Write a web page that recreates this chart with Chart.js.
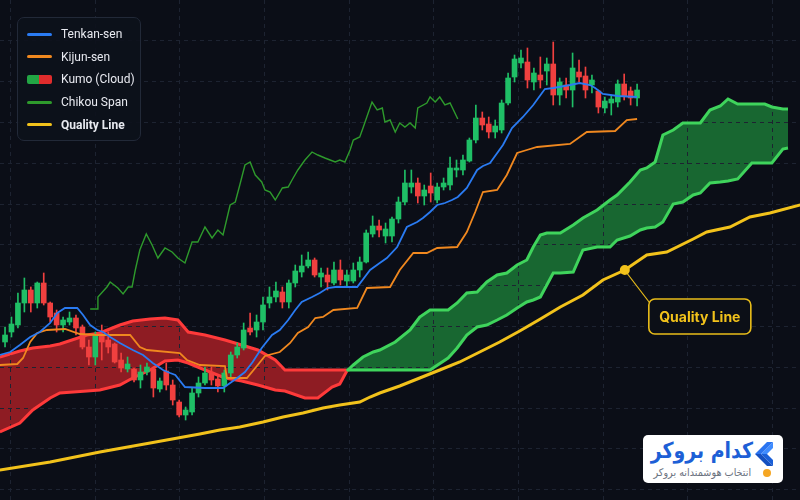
<!DOCTYPE html>
<html>
<head>
<meta charset="utf-8">
<script src="https://cdn.jsdelivr.net/npm/chart.js@4"></script>
<style>
  html, body { margin: 0; padding: 0; background: #0b0e17; }
  #wrap { position: relative; width: 800px; height: 500px; overflow: hidden; background: #0b0e17; }
  #chart { position: absolute; left: 0; top: 0; }
  .legend {
    position: absolute; left: 17px; top: 17px; width: 124px; height: 124px;
    box-sizing: border-box; padding: 5px 0 0 9px;
    background: rgba(13, 17, 27, 0.92); border: 1px solid #222938; border-radius: 7px;
    font-family: Roboto, sans-serif; font-size: 12px; color: #e8eaf0; white-space: nowrap;
  }
  .legend .row { display: flex; align-items: center; height: 22.6px; }
  .legend .sw { display: inline-block; flex: none; width: 25px; height: 3px; border-radius: 2px; margin-right: 9px; }
  .legend .kumo { height: 9px; border-radius: 2px; background: linear-gradient(90deg, #22a544 0 50%, #e02c2c 50% 100%); }
  .legend .bold { font-weight: 700; }
  .brand {
    position: absolute; left: 643px; top: 435px; width: 140px; height: 48px;
    background: #ffffff; border-radius: 5px; box-sizing: border-box;
  }
  .brand .name {
    position: absolute; right: 30px; top: 3px; direction: rtl;
    font-family: "DejaVu Sans", sans-serif; font-weight: 700; font-size: 22px; color: #1d5fd6; white-space: nowrap;
    transform: scaleX(0.86); transform-origin: right center;
  }
  .brand .sub {
    position: absolute; right: 32px; top: 31px; direction: rtl;
    font-family: "DejaVu Sans", sans-serif; font-size: 10.5px; color: #6b7280; white-space: nowrap;
    transform: scaleX(0.92); transform-origin: right center;
  }
  .brand svg { position: absolute; right: 8px; top: 6px; }
</style>
</head>
<body>
<div id="wrap">
  <canvas id="chart" width="800" height="500"></canvas>
  <div id="legend" class="legend"></div>
  <div class="brand">
    <div class="name">کدام بروکر</div>
    <div class="sub">انتخاب هوشمندانه بروکر</div>
    <svg width="20" height="38" viewBox="0 0 20 38">
      <polygon points="18,1 6,13 12,13 18,7" fill="#3f8cff"/>
      <polygon points="6,13 18,25 18,19 12,13" fill="#1a5fd8"/>
      <polygon points="18,1 12,1 0,13 6,13" fill="#2a74f0"/>
      <polygon points="0,13 12,25 18,25 6,13" fill="#1550c0"/>
      <circle cx="12" cy="32" r="4" fill="#f5a623"/>
    </svg>
  </div>
</div>
<script>
// candles: bar index -> open / high / low / close
const candleOpen = [
  115.8, 116.8, 117.5, 119.7, 121.0, 119.7, 121.7, 119.7, 118.7, 117.5,
  117.8, 118.2, 117.3, 115.3, 114.3, 116.5, 116.0, 115.6, 114.0, 113.1,
  113.1, 112.0, 112.8, 113.1, 111.1, 112.9, 111.5, 109.8, 108.5, 108.8,
  110.7, 111.7, 112.7, 112.1, 111.4, 112.7, 114.5, 115.2, 117.2, 117.0,
  117.8, 119.7, 120.3, 120.8, 119.8, 121.7, 122.8, 123.4, 124.0, 122.3,
  122.5, 121.7, 123.0, 121.9, 121.9, 123.0, 123.8, 126.6, 127.4, 126.4,
  126.4, 128.1, 129.8, 131.3, 131.7, 130.4, 131.4, 130.0, 131.3, 131.5,
  133.0, 133.0, 133.9, 136.0, 138.2, 137.6, 136.8, 137.0, 139.7, 142.3,
  143.7, 143.8, 141.8, 142.5, 142.9, 143.6, 140.5, 141.5, 141.0, 142.8,
  142.4, 141.5, 140.9, 139.2, 139.7, 139.8, 141.6, 140.9, 140.2
];
const candleHigh = [
  117.3, 118.3, 120.7, 122.2, 121.3, 121.8, 122.7, 119.8, 119.0, 118.3,
  118.8, 118.5, 117.5, 116.0, 116.8, 117.5, 116.8, 115.7, 114.7, 114.3,
  113.2, 113.5, 113.7, 113.3, 112.2, 113.7, 112.0, 110.0, 109.3, 111.2,
  112.3, 113.3, 113.3, 112.5, 113.0, 114.8, 115.7, 117.7, 118.7, 118.5,
  120.3, 121.3, 121.8, 121.3, 122.0, 123.5, 124.5, 124.8, 124.2, 123.2,
  123.2, 123.8, 124.0, 123.0, 123.7, 124.3, 127.0, 128.4, 128.0, 127.7,
  128.3, 130.3, 133.0, 133.0, 132.2, 131.5, 132.7, 131.7, 132.2, 134.3,
  134.0, 134.5, 136.2, 139.5, 138.8, 138.3, 138.0, 140.0, 142.7, 144.5,
  145.0, 145.2, 143.2, 144.3, 144.2, 145.8, 142.2, 142.2, 144.7, 144.0,
  143.3, 142.5, 141.0, 140.3, 140.5, 142.0, 142.6, 141.3, 141.6
];
const candleLow = [
  115.3, 116.3, 117.2, 118.8, 118.8, 119.2, 119.5, 117.8, 116.8, 116.8,
  117.5, 116.5, 115.1, 113.5, 113.5, 114.0, 114.7, 113.7, 112.8, 112.8,
  111.8, 111.2, 112.5, 110.3, 110.8, 111.0, 109.5, 108.3, 108.0, 108.5,
  110.3, 111.5, 111.5, 110.8, 110.8, 112.3, 114.2, 115.0, 116.5, 116.3,
  117.0, 119.2, 119.8, 119.2, 119.2, 121.3, 122.3, 123.2, 122.3, 121.3,
  121.0, 121.5, 121.5, 121.3, 121.7, 122.3, 123.7, 126.3, 126.3, 125.7,
  125.8, 127.7, 129.5, 130.7, 129.7, 129.5, 129.8, 129.7, 131.0, 131.0,
  132.3, 132.5, 133.8, 135.7, 137.0, 136.2, 136.2, 136.7, 139.5, 141.8,
  143.2, 141.2, 141.0, 141.2, 141.5, 139.5, 139.5, 140.2, 139.3, 141.8,
  140.2, 140.7, 138.7, 138.7, 138.5, 139.3, 140.0, 139.5, 139.4
];
const candleClose = [
  116.5, 117.6, 119.7, 121.0, 119.7, 121.7, 119.7, 118.3, 117.5, 118.0,
  118.2, 117.2, 115.3, 114.3, 116.5, 115.8, 115.3, 113.8, 113.2, 113.6,
  112.0, 112.8, 113.3, 111.2, 111.9, 111.5, 110.0, 108.5, 109.0, 110.7,
  111.7, 112.7, 112.0, 111.4, 112.7, 114.5, 115.3, 117.0, 116.8, 117.8,
  119.5, 120.3, 120.9, 119.8, 121.7, 122.9, 123.4, 124.0, 122.5, 122.7,
  121.8, 123.0, 122.0, 122.5, 123.0, 123.8, 126.7, 127.4, 127.0, 127.1,
  128.1, 129.8, 131.7, 131.7, 130.4, 131.0, 130.7, 131.3, 131.7, 133.2,
  133.2, 134.0, 136.0, 138.2, 137.5, 136.8, 137.4, 139.7, 142.2, 144.1,
  144.2, 142.0, 142.7, 142.0, 143.6, 140.5, 141.8, 141.0, 143.2, 142.3,
  141.0, 142.0, 139.3, 139.9, 140.1, 141.6, 140.4, 140.2, 141.0
];

// Tenkan-sen (bar position, value)
const tenkanX = [-0.8, 0.8, 2.3, 3.9, 5.4, 7.0, 8.1, 9.3, 11.2, 12.1, 13.2, 14.3, 15.2, 16.3, 17.8, 19.8,
  21.4, 22.9, 24.5, 25.6, 26.4, 27.9, 31.0, 33.8, 34.9, 36.0, 37.2, 38.4, 39.8, 41.4, 42.6, 43.9,
  45.0, 46.0, 47.6, 48.8, 50.0, 51.2, 54.6, 56.6, 58.1, 59.2, 60.8, 62.3, 63.9, 64.8, 65.9, 67.0,
  68.2, 69.3, 70.2, 71.6, 73.2, 74.1, 75.2, 77.2, 78.6, 80.3, 81.9, 83.7, 85.0, 87.6, 89.1, 90.7,
  91.5, 92.7, 95.0, 98.0];
const tenkanY = [114.5, 114.8, 115.5, 116.3, 116.8, 117.7, 118.7, 119.2, 119.2, 118.5, 117.5, 117.0, 116.8, 116.3, 115.7, 115.0,
  114.5, 113.7, 113.0, 112.7, 112.5, 111.3, 111.2, 111.2, 111.7, 112.2, 112.8, 113.8, 115.2, 116.5, 117.0, 118.0,
  119.0, 119.8, 120.3, 120.7, 121.2, 121.3, 121.3, 123.0, 123.7, 124.2, 125.3, 127.3, 127.8, 128.2, 128.8, 129.5,
  129.7, 130.0, 130.3, 131.2, 133.0, 133.4, 133.7, 135.5, 137.2, 138.3, 139.5, 141.1, 141.2, 141.5, 141.7, 141.5,
  141.2, 140.6, 140.4, 140.3];

// Kijun-sen
const kijunX = [-0.8, 1.9, 2.8, 3.9, 5.0, 6.5, 9.3, 11.6, 14.3, 19.4, 20.9, 22.0, 27.1, 28.2, 30.2, 34.1,
  34.4, 37.5, 38.8, 40.3, 42.6, 44.2, 45.4, 47.0, 48.1, 49.3, 50.9, 54.6, 56.1, 59.7, 61.2, 63.3,
  65.4, 67.0, 70.1, 71.6, 72.9, 74.1, 76.3, 77.8, 79.4, 80.9, 82.5, 87.6, 89.1, 90.2, 94.6, 96.4, 98.0];
const kijunY = [113.5, 113.6, 114.2, 115.8, 116.7, 117.0, 117.1, 116.6, 116.5, 116.5, 115.3, 115.0, 114.7, 114.0, 113.5, 113.4,
  112.2, 112.2, 113.2, 114.4, 114.8, 115.7, 116.7, 117.3, 118.2, 118.3, 119.0, 119.2, 121.2, 121.3, 123.0, 124.7,
  124.7, 125.2, 125.3, 126.8, 128.8, 130.8, 131.0, 132.5, 134.7, 135.0, 135.3, 135.6, 136.3, 136.8, 136.9, 138.0, 138.1];

// Kumo: Senkou Span A and B, shifted forward
const cloudX = [-0.8, 2.3, 4.3, 7.0, 8.5, 12.7, 14.7, 17.8, 19.8, 22.5, 24.8, 26.8, 28.4, 31.0, 34.1, 36.7,
  39.2, 41.9, 43.4, 46.5, 48.5, 50.7, 51.9, 53.0, 54.0, 55.5, 57.1, 58.1, 60.5, 62.8, 64.3, 65.9,
  68.7, 70.1, 71.6, 73.2, 74.7, 76.3, 77.8, 79.4, 80.9, 81.9, 83.0, 84.0, 85.0, 86.1, 88.1, 89.6,
  91.8, 93.8, 94.9, 96.9, 98.5, 99.5, 100.8, 102.0, 103.6, 105.1, 106.7, 107.8, 109.3, 110.9,
  112.1, 113.6, 115.8, 117.8, 118.9, 120.6, 121.4];
const spanA = [106.8, 107.7, 109.0, 110.2, 110.7, 110.9, 111.0, 111.5, 112.2, 113.0, 113.9, 114.0, 113.7, 113.0, 112.2, 111.9,
  111.5, 111.0, 110.9, 110.2, 110.2, 111.3, 111.6, 112.9, 113.5, 114.3, 114.8, 115.0, 115.8, 117.0, 118.3, 119.0,
  119.0, 119.7, 120.7, 120.8, 121.8, 122.5, 122.7, 123.5, 124.0, 125.3, 126.5, 126.7, 126.7, 126.7, 127.5, 128.2,
  129.0, 130.0, 130.5, 131.8, 133.0, 133.2, 133.8, 136.5, 137.0, 137.7, 137.7, 137.7, 139.0, 139.4,
  140.1, 139.6, 139.6, 139.6, 139.3, 139.1, 139.1];
const spanB = [114.3, 114.9, 115.2, 115.4, 115.6, 116.5, 116.7, 117.5, 117.9, 118.1, 118.2, 118.0, 116.8, 116.5, 116.0, 115.5,
  115.0, 114.0, 113.0, 113.0, 113.0, 113.0, 113.0, 113.0, 113.0, 113.0, 113.0, 113.0, 113.0, 113.0, 113.0, 113.0,
  114.2, 115.2, 116.5, 117.3, 117.5, 118.0, 118.5, 119.2, 119.8, 120.0, 120.3, 121.5, 122.7, 122.7, 122.8, 125.0,
  125.3, 125.3, 126.0, 126.4, 127.0, 127.2, 127.3, 127.8, 129.6, 129.8, 130.5, 130.7, 131.7, 131.8,
  131.9, 132.1, 133.7, 133.7, 133.7, 135.1, 135.2];

// Chikou span, shifted back
const chikouX = [13.2, 14.3, 14.4, 15.8, 16.3, 17.5, 18.3, 19.1, 19.7, 20.2, 20.9, 21.9, 22.8, 23.7, 24.8, 25.9,
  26.8, 27.9, 29.0, 29.9, 31.0, 32.1, 33.0, 33.8, 34.9, 35.7, 36.4, 37.2, 38.0, 38.8, 39.8, 40.3,
  41.1, 41.9, 43.0, 43.9, 44.5, 45.4, 46.5, 47.6, 48.5, 49.6, 50.4, 51.2, 51.9, 52.7, 53.5, 54.0,
  55.0, 55.5, 56.9, 57.7, 58.5, 58.9, 59.7, 60.5, 61.2, 62.0, 62.8, 63.6, 64.0, 65.4, 65.9, 66.7,
  67.4, 68.2, 69.0, 70.2];
const chikouY = [119.1, 119.1, 120.3, 121.3, 121.8, 121.2, 120.6, 121.3, 121.3, 123.0, 125.0, 126.6, 125.5, 124.2, 125.2, 124.8,
  124.2, 123.7, 125.8, 125.8, 127.3, 126.2, 127.0, 126.5, 129.5, 129.8, 131.5, 133.5, 133.8, 132.5, 131.8, 131.0,
  130.8, 130.0, 131.2, 131.3, 132.0, 133.0, 134.0, 134.8, 134.5, 134.2, 134.0, 133.8, 134.0, 133.8, 135.0, 136.0,
  136.3, 137.2, 139.8, 139.0, 139.2, 137.8, 138.0, 136.8, 137.7, 137.3, 137.7, 137.2, 139.2, 139.7, 140.3, 139.8,
  140.3, 139.5, 139.7, 138.1];

// Quality line
const qualityX = [-0.8, 7.0, 14.7, 22.5, 30.2, 33.3, 36.4, 40.0, 43.1, 46.2, 49.3, 51.9, 55.0, 56.6, 58.1, 61.2,
  64.3, 67.4, 70.5, 73.6, 76.7, 79.8, 83.0, 86.1, 89.6, 92.7, 96.1, 99.5, 102.6, 106.7, 108.8,
  112.4, 115.5, 118.6, 123.3];
const qualityY = [103.0, 103.8, 104.8, 105.7, 106.6, 107.0, 107.3, 107.8, 108.3, 108.7, 109.2, 109.5, 109.8, 110.3, 110.7, 111.4,
  112.2, 113.0, 113.8, 114.8, 115.8, 116.9, 118.1, 119.3, 120.5, 122.0, 123.0, 124.5, 124.8, 126.1, 126.8,
  127.3, 128.3, 128.7, 129.5];
const qualityTagX = 96.1;
const qualityTagText = 'Quality Line';

// grid levels (no tick labels are shown)
const xGrid = [0.8, 13.9, 27.0, 40.2, 53.3, 66.4, 79.5, 92.7, 105.8, 118.9];
const yGrid = [146.0, 141.9, 137.8, 133.7, 129.6, 125.6, 121.5, 117.4, 113.3, 109.2, 105.2, 101.1];

const GREEN = '#1fbf66';
const RED = '#f0403f';
const CLOUD_GREEN_LINE = '#3fd45c';
const CLOUD_RED_LINE = '#ff3a3a';

function pts(xs, ys) {
  return xs.map((x, i) => ({ x: x, y: ys[i] }));
}

const candleColors = candleClose.map((c, i) => (c >= candleOpen[i] ? GREEN : RED));
const bodies = candleOpen.map((o, i) => ({ x: i, y: [o, candleClose[i]] }));
const wicks = candleLow.map((l, i) => ({ x: i, y: [l, candleHigh[i]] }));

function cloudSegColor(ctx) {
  const a = spanA[ctx.p0DataIndex] + spanA[ctx.p1DataIndex];
  const b = spanB[ctx.p0DataIndex] + spanB[ctx.p1DataIndex];
  return a >= b ? CLOUD_GREEN_LINE : CLOUD_RED_LINE;
}

// dashed background grid, positioned through the chart scales
const gridPlugin = {
  id: 'dashGrid',
  beforeDatasetsDraw(chart) {
    const { ctx, chartArea, scales } = chart;
    ctx.save();
    ctx.strokeStyle = '#1d2331';
    ctx.lineWidth = 1;
    ctx.setLineDash([4, 4]);
    xGrid.forEach(v => {
      const x = Math.round(scales.x.getPixelForValue(v)) + 0.5;
      ctx.beginPath();
      ctx.moveTo(x, chartArea.top);
      ctx.lineTo(x, chartArea.bottom);
      ctx.stroke();
    });
    yGrid.forEach(v => {
      const y = Math.round(scales.y.getPixelForValue(v)) + 0.5;
      ctx.beginPath();
      ctx.moveTo(chartArea.left, y);
      ctx.lineTo(chartArea.right, y);
      ctx.stroke();
    });
    ctx.restore();
  }
};

// callout box for the quality line
const calloutPlugin = {
  id: 'qualityCallout',
  afterDatasetsDraw(chart) {
    const meta = chart.getDatasetMeta(2);
    const idx = qualityX.indexOf(qualityTagX);
    const pt = meta.data[idx];
    if (!pt) return;
    const { ctx } = chart;
    const bx = pt.x + 24, by = pt.y + 29, bw = 102, bh = 35;
    ctx.save();
    ctx.strokeStyle = '#e9bd1a';
    ctx.lineWidth = 1.2;
    ctx.beginPath();
    ctx.moveTo(pt.x + 2, pt.y + 3);
    ctx.lineTo(bx + 1, by + 4);
    ctx.stroke();
    ctx.fillStyle = '#0c0f17';
    ctx.lineWidth = 1.6;
    ctx.beginPath();
    ctx.roundRect(bx, by, bw, bh, 6);
    ctx.fill();
    ctx.stroke();
    ctx.fillStyle = '#f2c21b';
    ctx.font = 'bold 14px Inter, Roboto, sans-serif';
    ctx.textAlign = 'center';
    ctx.textBaseline = 'middle';
    ctx.fillText(qualityTagText, bx + bw / 2, by + bh / 2 + 1);
    ctx.restore();
  }
};

const chart = new Chart(document.getElementById('chart'), {
  type: 'bar',
  data: {
    datasets: [
      {
        type: 'line', label: 'Senkou Span B', data: pts(cloudX, spanB),
        borderWidth: 3, pointRadius: 0, fill: false, order: 10,
        borderColor: CLOUD_RED_LINE, segment: { borderColor: cloudSegColor }
      },
      {
        type: 'line', label: 'Kumo (Cloud)', data: pts(cloudX, spanA),
        borderWidth: 3, pointRadius: 0, order: 9,
        borderColor: CLOUD_RED_LINE, segment: { borderColor: cloudSegColor },
        fill: { target: 0, above: 'rgba(32, 150, 64, 0.66)', below: 'rgba(205, 36, 42, 0.68)' }
      },
      {
        type: 'line', label: 'Quality Line', data: pts(qualityX, qualityY),
        borderColor: '#f2c21b', borderWidth: 3, order: 8, fill: false,
        pointRadius: ctx => (ctx.raw && ctx.raw.x === qualityTagX ? 5 : 0),
        pointBackgroundColor: '#f2c21b', pointBorderWidth: 0, pointHoverRadius: 0
      },
      {
        label: 'wicks', data: wicks, backgroundColor: candleColors,
        barThickness: 1, grouped: false, borderWidth: 0, order: 4
      },
      {
        label: 'bodies', data: bodies, backgroundColor: candleColors,
        barThickness: 5, grouped: false, borderWidth: 0, borderSkipped: false, order: 3
      },
      {
        type: 'line', label: 'Chikou Span', data: pts(chikouX, chikouY),
        borderColor: '#2e9a2c', borderWidth: 1.4, pointRadius: 0, fill: false, order: 2
      },
      {
        type: 'line', label: 'Kijun-sen', data: pts(kijunX, kijunY),
        borderColor: '#f0881f', borderWidth: 1.8, pointRadius: 0, fill: false, order: 1
      },
      {
        type: 'line', label: 'Tenkan-sen', data: pts(tenkanX, tenkanY),
        borderColor: '#2a7bf2', borderWidth: 1.8, pointRadius: 0, fill: false, order: 0
      }
    ]
  },
  options: {
    responsive: false,
    animation: false,
    layout: { padding: 0 },
    scales: {
      x: { type: 'linear', min: -0.78, max: 123.26, offset: false, display: false },
      y: { type: 'linear', min: 100, max: 150, display: false }
    },
    plugins: {
      legend: { display: false },
      tooltip: { enabled: false },
      filler: { drawTime: 'beforeDatasetsDraw' }
    }
  },
  plugins: [gridPlugin, calloutPlugin]
});

// html legend
const legendItems = [
  { label: 'Tenkan-sen', color: '#2a7bf2' },
  { label: 'Kijun-sen', color: '#f0881f' },
  { label: 'Kumo (Cloud)', kumo: true },
  { label: 'Chikou Span', color: '#2e9a2c' },
  { label: 'Quality Line', color: '#f2c21b', bold: true }
];
const legendEl = document.getElementById('legend');
legendItems.forEach(item => {
  const row = document.createElement('div');
  row.className = 'row';
  const sw = document.createElement('span');
  sw.className = item.kumo ? 'sw kumo' : 'sw';
  if (!item.kumo) sw.style.background = item.color;
  const txt = document.createElement('span');
  txt.textContent = item.label;
  if (item.bold) txt.className = 'bold';
  row.appendChild(sw);
  row.appendChild(txt);
  legendEl.appendChild(row);
});
</script>
</body>
</html>
